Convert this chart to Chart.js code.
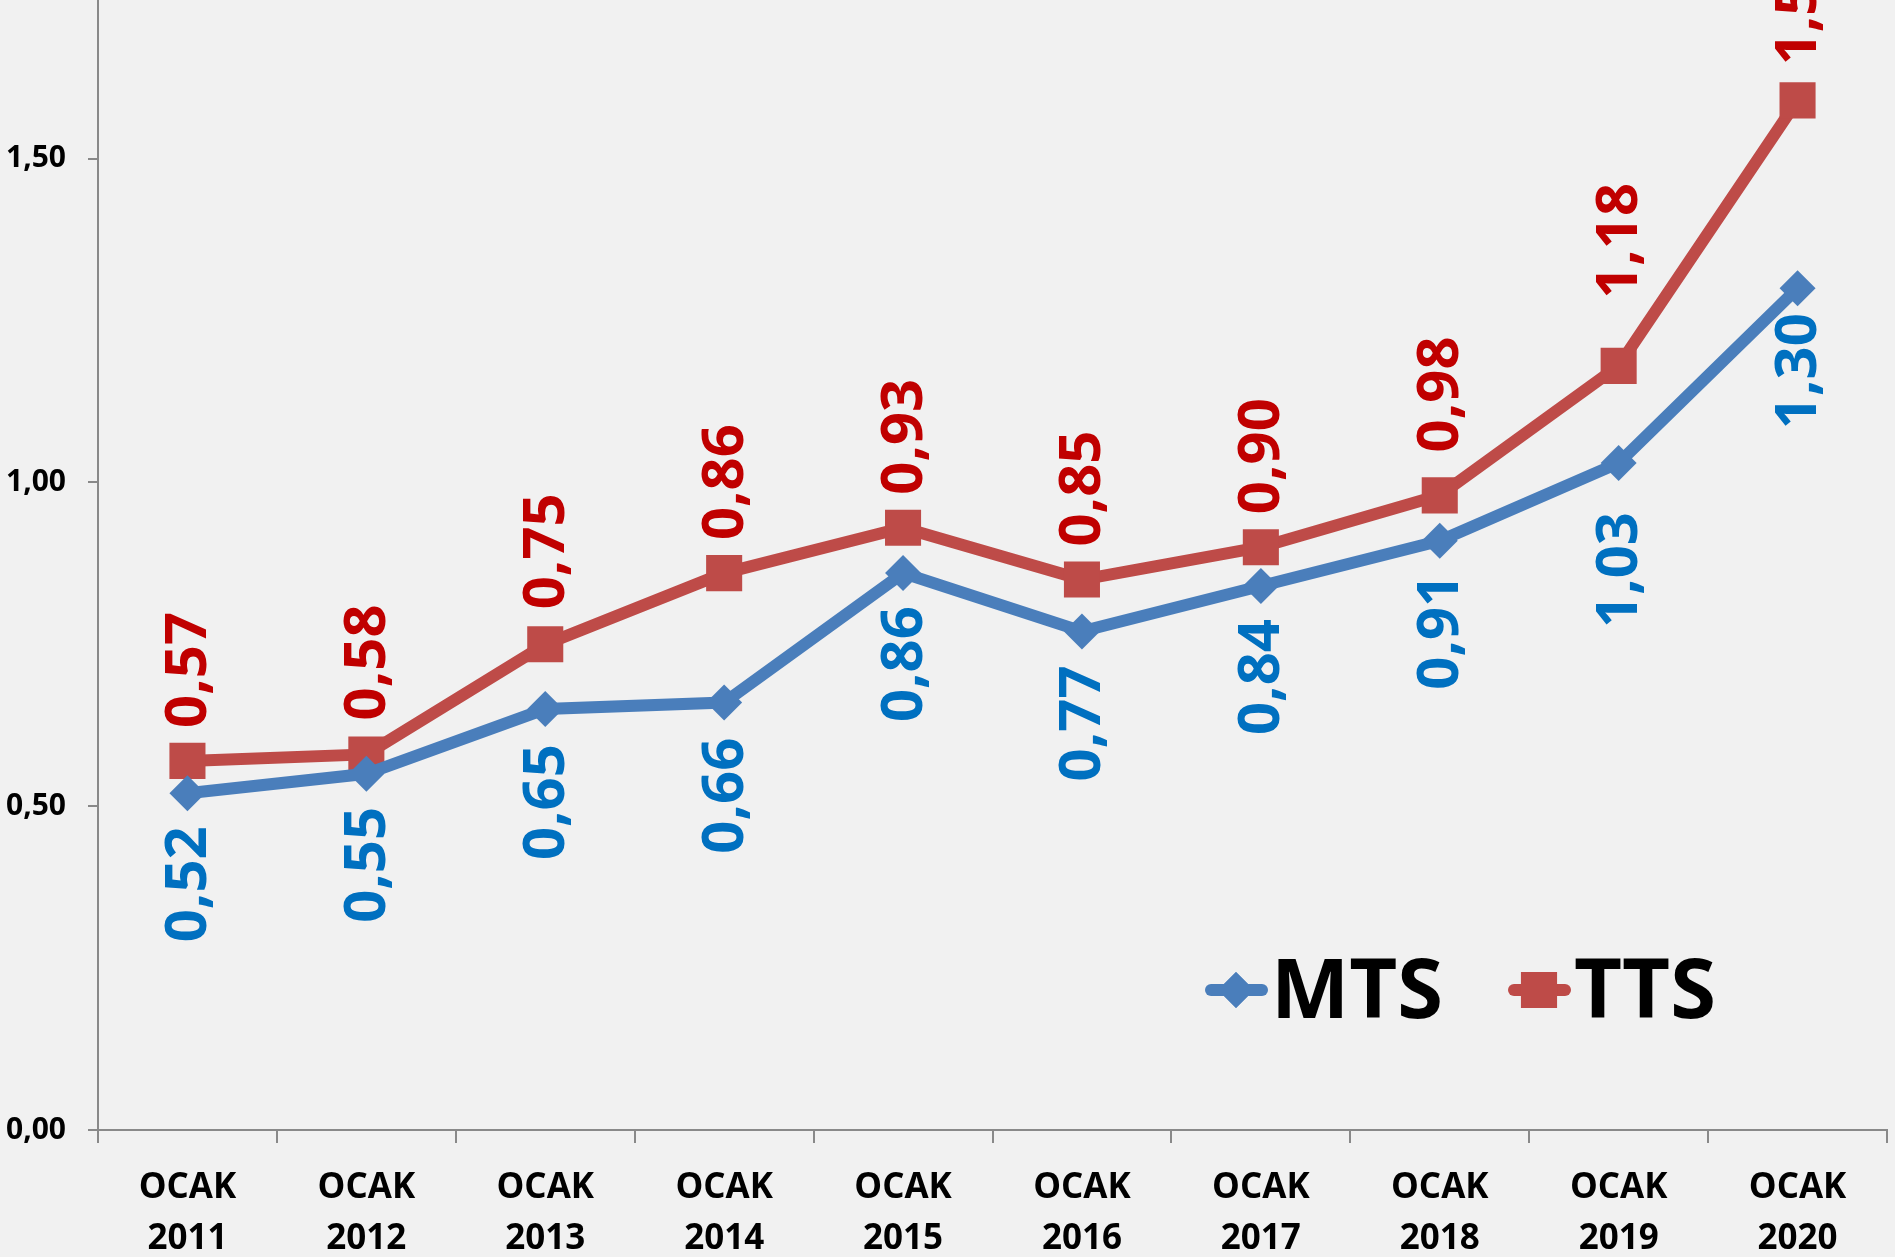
<!DOCTYPE html>
<html>
<head>
<meta charset="utf-8">
<script src="https://cdn.jsdelivr.net/npm/chart.js@4.4.1/dist/chart.umd.min.js"></script>
<style>
  html, body { margin: 0; padding: 0; background: #f2f2f2; }
  #wrap { width: 1895px; height: 1257px; }
</style>
</head>
<body>
<div id="wrap"><canvas id="myChart"></canvas></div>
<script>
// categories and series
const years = ['2011', '2012', '2013', '2014', '2015', '2016', '2017', '2018', '2019', '2020'];
const categories = years.map(y => ['OCAK', y]);
const mtsValues = [0.52, 0.55, 0.65, 0.66, 0.86, 0.77, 0.84, 0.91, 1.03, 1.30];
const ttsValues = [0.57, 0.58, 0.75, 0.86, 0.93, 0.85, 0.90, 0.98, 1.18, 1.59];
const yTicks = [0, 0.5, 1.0, 1.5];

const FONT = "'Open Sans', 'DejaVu Sans', sans-serif";

function fmt(v) {
    return v.toFixed(2).replace('.', ',');
}

// light marble-ish flat background
const bgPlugin = {
    id: 'bg',
    beforeDraw(chart) {
        let c = chart.ctx;
        c.save();
        c.fillStyle = '#f1f1f1';
        c.fillRect(0, 0, chart.width, chart.height);
        c.restore();
    }
};

// rotated value labels, red above, blue below
const valueLabels = {
    id: 'valueLabels',
    afterDatasetsDraw(chart, args, opts) {
        let c = chart.ctx;
        chart.data.datasets.forEach((ds, i) => {
            let meta = chart.getDatasetMeta(i);
            let above = ds.labelPos === 'above';
            let extra = ds.labelExtra || [];
            meta.data.forEach((pt, j) => {
                let gap = opts.gap + (extra[j] || 0);
                c.save();
                c.translate(pt.x + 2, above ? pt.y - gap : pt.y + gap);
                c.rotate(-Math.PI / 2);
                c.font = 'bold 58px ' + FONT;
                c.fillStyle = ds.labelColor;
                c.textAlign = above ? 'left' : 'right';
                c.textBaseline = 'middle';
                c.fillText(fmt(ds.data[j]), 0, 0);
                c.restore();
            });
        });
    }
};

// legend drawn inside the plot, lower right
const legendInside = {
    id: 'legendInside',
    afterDraw(chart, args, opts) {
        let c = chart.ctx;
        chart.data.datasets.forEach((ds, i) => {
            let x0 = opts.items[i];
            let y = opts.y;
            c.save();
            c.strokeStyle = ds.borderColor;
            c.lineWidth = 12;
            c.lineCap = 'round';
            c.beginPath();
            c.moveTo(x0 + 6, y);
            c.lineTo(x0 + 57, y);
            c.stroke();
            c.fillStyle = ds.borderColor;
            Chart.helpers.drawPoint(c, {pointStyle: ds.pointStyle, radius: ds.pointRadius, rotation: 0}, x0 + 31, y);
            c.fill();
            c.font = 'bold 83px ' + FONT;
            c.fillStyle = '#000';
            c.textAlign = 'left';
            c.textBaseline = 'middle';
            c.fillText(ds.label, x0 + 66, y + 4);
            c.restore();
        });
    }
};

let ctx = document.getElementById('myChart').getContext('2d');
let chart = new Chart(ctx, {
    type: 'line',
    data: {
        labels: categories,
        datasets: [
            {
                label: 'MTS',
                data: mtsValues,
                borderColor: '#4a7ebb',
                backgroundColor: '#4a7ebb',
                borderWidth: 12,
                pointStyle: 'rectRot',
                pointRadius: 18,
                pointBorderWidth: 0,
                labelColor: '#0070c0',
                labelPos: 'below',
                labelExtra: [0, 0, 2, 2, 0, 1, 0, 0, 16, -8]
            },
            {
                label: 'TTS',
                data: ttsValues,
                borderColor: '#be4b48',
                backgroundColor: '#be4b48',
                borderWidth: 12,
                pointStyle: 'rect',
                pointRadius: 25.5,
                pointBorderWidth: 0,
                labelColor: '#c00000',
                labelPos: 'above',
                labelExtra: [0, 1, 2, 0, 0, 0, 0, 10, 34, 2]
            }
        ]
    },
    options: {
        responsive: true,
        maintainAspectRatio: false,
        animation: false,
        layout: { autoPadding: false, padding: { left: 0, right: 8, top: 0, bottom: 0 } },
        plugins: {
            legend: { display: false },
            tooltip: { enabled: false },
            valueLabels: { gap: 33 },
            legendInside: { items: [1205, 1508], y: 990 }
        },
        scales: {
            x: {
                offset: true,
                grid: {
                    display: true,
                    drawOnChartArea: false,
                    drawTicks: true,
                    tickLength: 13,
                    offset: true,
                    color: '#898989',
                    lineWidth: 2
                },
                border: { display: true, color: '#898989', width: 2 },
                ticks: {
                    autoSkip: false,
                    maxRotation: 0,
                    color: '#000',
                    padding: 20,
                    font: { family: FONT, size: 35, weight: 'bold', lineHeight: 1.45 }
                },
                afterFit(scale) { scale.height = 127; }
            },
            y: {
                min: 0,
                max: 1.745,
                grid: {
                    display: true,
                    drawOnChartArea: false,
                    drawTicks: true,
                    tickLength: 10,
                    color: '#898989',
                    lineWidth: 2
                },
                border: { display: true, color: '#898989', width: 2 },
                afterBuildTicks(scale) {
                    scale.ticks = yTicks.map(v => ({ value: v }));
                },
                ticks: {
                    color: '#000',
                    padding: 22,
                    font: { family: FONT, size: 30, weight: 'bold' },
                    callback: v => fmt(v)
                },
                afterFit(scale) {
                    scale.width = 98;
                    scale.paddingTop = 0;
                    scale.paddingBottom = 0;
                }
            }
        }
    },
    plugins: [bgPlugin, valueLabels, legendInside]
});
</script>
</body>
</html>
